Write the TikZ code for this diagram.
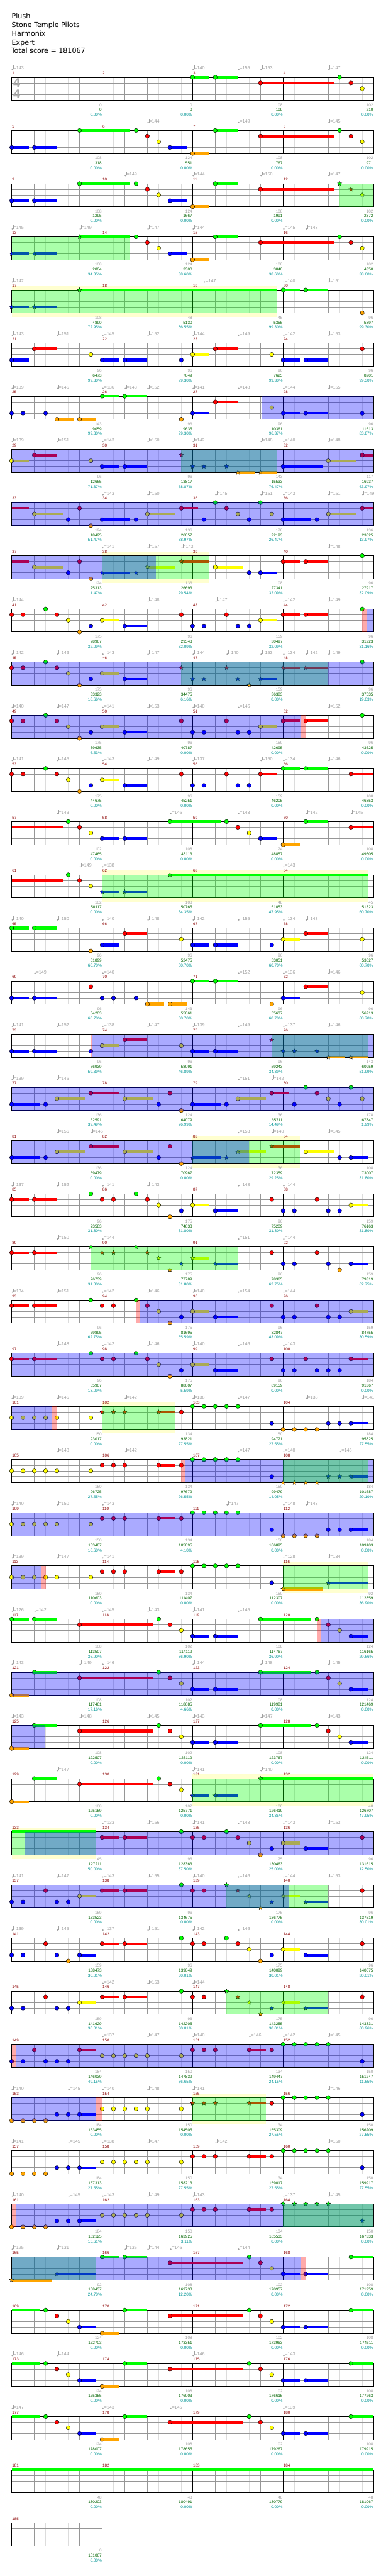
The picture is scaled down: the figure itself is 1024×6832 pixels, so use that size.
\documentclass[tikz,border=0pt]{standalone}
\usepackage{fontspec}
\setmainfont{Liberation Sans}
\newfontfamily\hdrfont{DejaVu Sans}
\usetikzlibrary{shapes.geometric}
\definecolor{lane0}{RGB}{0,255,0}
\definecolor{lane1}{RGB}{255,0,0}
\definecolor{lane2}{RGB}{255,255,0}
\definecolor{lane3}{RGB}{0,0,255}
\definecolor{lane4}{RGB}{255,165,0}
\definecolor{mred}{RGB}{139,0,0}
\definecolor{sgray}{RGB}{160,160,160}
\definecolor{sgreen}{RGB}{0,100,0}
\definecolor{scyan}{RGB}{0,150,150}
\definecolor{gridg}{RGB}{150,150,150}
\definecolor{gridl}{RGB}{220,220,220}
\definecolor{bandy}{RGB}{255,255,208}
\definecolor{ovb}{RGB}{0,0,255}
\definecolor{ovg}{RGB}{0,255,0}
\definecolor{ovr}{RGB}{255,0,0}
\newcounter{nc}
\newcommand\Rw[1]{\pgfmathtruncatemacro\Y{205+141*#1}}
\newcommand\Ly[1]{\Y+15*(#1)+((#1)>3)}
\newcommand\Grd{%
 \draw[gridl,line width=1pt] \foreach \k in {1,...,31}{({31+30*\k},\Y) -- ++(0,61)};%
 \draw[gridg,line width=1pt] \foreach \k in {1,2,3}{(31,{\Y+15*\k}) -- (991,{\Y+15*\k})};%
 \draw[gridg,line width=1pt] \foreach \k in {2,4,...,30}{({31+30*\k},\Y) -- ++(0,61)};%
 \draw[black,line width=1pt] \foreach \k in {8,16,24}{({31+30*\k},\Y) -- ++(0,61)};%
 \draw[black,line width=1.3pt] (31,\Y) rectangle (991,{\Y+61});}
\newcommand\Nt[2]{\filldraw[fill=lane#2,draw=black,line width=0.7pt] ({31+30*(#1)},{\Ly{#2}}) circle[radius=5.5pt];}
\newcommand\Sb[3]{\draw[lane#3,line width=7pt] ({31+30*(#1)},{\Ly{#3}}) -- ({31+30*(#2)},{\Ly{#3}});}
\newcommand\Su[3]{\Sb{#1}{#2}{#3}\Nt{#1}{#3}}
\newcommand\Stn[2]{\stepcounter{nc}\node[starn,fill=lane#2] (st\thenc) at ({31+30*(#1)},{\Ly{#2}}) {};}
\newcommand\Sts[3]{\Sb{#1}{#2}{#3}\Stn{#1}{#3}}
\newcommand\Nss[2]{\foreach \q in {#2}{\Nt{\q}{#1}}}
\newcommand\Ovl[3]{\fill[#1,opacity=0.3333] ({31+30*(#2)},\Y) rectangle ({31+30*(#3)},{\Y+61});}
\newcommand\Ybd[2]{\fill[bandy] ({31+30*(#1)},{\Y-11}) rectangle ({31+30*(#2)},\Y);\fill[bandy] ({31+30*(#1)},{\Y+61}) rectangle ({31+30*(#2)},{\Y+72});}
\newcommand\Mss[5]{%
 \node[mn,anchor=base west] (m#2) at ({32+240*#1},{\Y-7}) {#2};%
 \node[gn,anchor=base east] (g#2) at ({30+240*(#1+1)},{\Y+77}) {#3};%
 \node[sn,anchor=base east] (s#2) at ({30+240*(#1+1)},{\Y+90}) {#4};%
 \node[pn,anchor=base east] (p#2) at ({30+240*(#1+1)},{\Y+103}) {#5\%};}
\newcommand\Tmp[2]{\stepcounter{nc}%
 \fill[sgray] ({33+30*(#1)},{\Y-21}) ellipse[x radius=2.4pt,y radius=1.7pt];%
 \draw[sgray,line width=0.8pt] ({35.2+30*(#1)},{\Y-21}) -- ({35.2+30*(#1)},{\Y-31});%
 \node[tn,anchor=base west] (tp\thenc) at ({36+30*(#1)},{\Y-20}) {=#2};}
\newcommand\Tmps[1]{\foreach \ta/\tb in {#1}{\Tmp{\ta}{\tb}}}
\newcommand\PatA{\Sb{0}{2.5}{0}\Nt{3}{0}\Nt{4}{1}\Nt{5}{2}\Su{6}{7.5}{3}\Su{8}{9.5}{4}\Su{10}{12}{0}\Su{14}{20.5}{1}\Nt{21}{0}\Nt{22}{1}\Nt{23}{2}\Su{24}{25.5}{3}\Su{26}{28}{3}\Su{30}{32}{0}}
\newcommand\PatB[1]{\Su{0}{1.5}{#1}\Su{2}{4}{0}\Su{6}{12.5}{1}\Nt{13}{0}\Nt{14}{1}\Nt{15}{2}\Su{16}{17.5}{3}\Su{18}{20}{3}\Su{22}{26.5}{0}\Nt{27}{0}\Nt{28}{1}\Nt{29}{2}\Su{30}{31.5}{3}}
\begin{document}
\begin{tikzpicture}[x=1pt,y=-1pt,
 starn/.style={star,star points=5,star point ratio=2.2,minimum size=12pt,inner sep=0pt,draw=black,line width=0.6pt},
 mn/.style={font=\fontsize{10.5}{12}\selectfont,text=mred,inner sep=0pt},
 gn/.style={font=\fontsize{10.7}{12}\selectfont,text=sgray,inner sep=0pt},
 sn/.style={font=\fontsize{10.7}{12}\selectfont,text=sgreen,inner sep=0pt},
 pn/.style={font=\fontsize{10.7}{12}\selectfont,text=scyan,inner sep=0pt},
 tn/.style={font=\fontsize{12}{13}\selectfont,text=sgray,inner sep=0pt},
 hd/.style={font=\hdrfont\fontsize{18.5}{23}\selectfont,inner sep=0pt,anchor=base west}]
\useasboundingbox (0,0) rectangle (1024,6832);
\fill[white] (0,0) rectangle (1024,6832);
\node[hd] (title) at (31,49.3) {Plush};
\node[hd] (artist) at (31,72.4) {Stone Temple Pilots};
\node[hd] (charter) at (31,95.5) {Harmonix};
\node[hd] (level) at (31,118.6) {Expert};
\node[hd] (total) at (29.5,141.7) {Total score = 181067};
% row 0
\Rw{0}\Grd
\node[font=\fontsize{33}{33}\selectfont\bfseries,text=black!33,inner sep=0pt] (ts1) at (44.5,{\Y+15}) {4};
\node[font=\fontsize{33}{33}\selectfont\bfseries,text=black!33,inner sep=0pt] (ts2) at (44.5,{\Y+45.5}) {4};
\Su{16}{17.5}{0}\Su{18}{20}{0}\Su{22}{28.5}{1}\Nt{29}{0}\Nt{30}{1}\Nt{31}{2}
\Tmps{0/143,16/140,20/155,22/153,28/147}
\Mss{0}{1}{0}{0}{0.00}\Mss{1}{2}{0}{0}{0.00}\Mss{2}{3}{108}{108}{0.00}\Mss{3}{4}{102}{210}{0.00}
% row 1
\Rw{1}\Grd
\Su{0}{1.5}{3}\Su{2}{4}{3}\Su{6}{10.5}{0}\Nt{11}{0}\Nt{12}{1}\Nt{13}{2}\Su{14}{15.5}{3}\Su{16}{17.5}{4}\Su{18}{20}{0}\Su{22}{28.5}{1}\Nt{29}{0}\Nt{30}{1}\Nt{31}{2}
\Tmps{12/144,20/149,28/145}
\Mss{0}{5}{108}{318}{0.00}\Mss{1}{6}{124}{551}{0.00}\Mss{2}{7}{108}{767}{0.00}\Mss{3}{8}{102}{971}{0.00}
% row 2
\Rw{2}\Grd
\Su{0}{1.5}{3}\Su{2}{4}{3}\Su{6}{10.5}{0}\Nt{11}{0}\Nt{12}{1}\Nt{13}{2}\Su{14}{15.5}{3}\Su{16}{17.5}{4}\Su{18}{20}{0}\Su{22}{28.5}{1}\Stn{29}{0}\Stn{30}{1}\Stn{31}{2}
\Ovl{ovg}{29}{32}
\Tmps{10/149,16/144,22/150,28/147}
\Mss{0}{9}{108}{1295}{0.00}\Mss{1}{10}{124}{1667}{0.00}\Mss{2}{11}{108}{1991}{0.00}\Mss{3}{12}{102}{2372}{0.00}
% row 3
\Rw{3}\Grd
\Sts{0}{1.5}{3}\Sts{2}{4}{3}\Sts{6}{10.5}{0}\Nt{11}{0}\Nt{12}{1}\Nt{13}{2}\Su{14}{15.5}{3}\Su{16}{17.5}{4}\Su{18}{20}{0}\Su{22}{28.5}{1}\Nt{29}{0}\Nt{30}{1}\Nt{31}{2}
\Ovl{ovg}{0}{10.5}
\Tmps{0/145,6/149,12/147,16/144,24/145,26/148}
\Mss{0}{13}{108}{2804}{34.35}\Mss{1}{14}{124}{3300}{38.60}\Mss{2}{15}{108}{3840}{38.60}\Mss{3}{16}{102}{4350}{38.60}
% row 4
\Rw{4}\Ybd{0}{23.5}\Grd
\Sts{0}{1.5}{3}\Sts{2}{4}{3}\Sts{6}{23.5}{0}\Su{24}{25.5}{0}\Su{26}{28}{0}\Nt{31}{4}
\Ovl{ovg}{0}{23.5}
\Tmps{0/142,17/147,24/140,28/151}
\Mss{0}{17}{108}{4890}{72.95}\Mss{1}{18}{48}{5130}{86.55}\Mss{2}{19}{45}{5355}{99.30}\Mss{3}{20}{96}{5897}{99.30}
% row 5
\Rw{5}\Grd
\Su{0}{1.5}{3}\Su{2}{4}{1}\Nt{7}{2}\Su{8}{9.5}{3}\Su{10}{12}{3}\Nt{15}{3}\Su{16}{17.5}{2}\Su{18}{20}{1}\Nt{23}{2}\Su{24}{25.5}{3}\Su{26}{28}{3}\Nt{31}{1}
\Tmps{0/143,4/151,8/145,12/152,16/144,20/149,24/142,28/153}
\Mss{0}{21}{96}{6473}{99.30}\Mss{1}{22}{96}{7049}{99.30}\Mss{2}{23}{96}{7625}{99.30}\Mss{3}{24}{96}{8201}{99.30}
% row 6
\Rw{6}\Grd
\Nt{0}{3}\Nt{1}{3}\Nt{3}{3}\Su{4}{5.5}{4}\Su{6}{7.5}{4}\Su{8}{9.5}{0}\Su{10}{12}{0}\Nt{15}{4}\Su{16}{17.5}{3}\Su{18}{20}{1}\Nt{23}{2}\Su{24}{25.5}{3}\Su{26}{28}{3}\Nt{31}{3}
\Ovl{ovb}{22.07}{32}
\Tmps{0/139,4/145,8/136,10/143,12/152,16/141,20/148,24/144,28/155}
\Mss{0}{25}{143}{9059}{99.30}\Mss{1}{26}{96}{9635}{99.30}\Mss{2}{27}{96}{10361}{96.37}\Mss{3}{28}{96}{11513}{83.87}
% row 7
\Rw{7}\Grd
\Su{0}{1.5}{2}\Su{2}{4}{1}\Nt{7}{2}\Su{8}{9.5}{3}\Su{10}{12}{3}\Stn{15}{1}\Stn{16}{3}\Stn{17}{3}\Stn{19}{3}\Sts{20}{21.5}{4}\Sts{22}{23.5}{4}\Su{24}{27.5}{3}\Su{28}{30.5}{2}\Su{31}{32}{1}
\Ovl{ovg}{15}{23.5}\Ovl{ovb}{0}{32}
\Tmps{0/139,4/151,8/143,12/150,16/142,22/148,24/140,28/148}
\Mss{0}{29}{96}{12665}{71.37}\Mss{1}{30}{96}{13817}{58.87}\Mss{2}{31}{143}{15533}{76.47}\Mss{3}{32}{117}{16937}{63.97}
% row 8
\Rw{8}\Grd
\Sb{0}{1.5}{1}\Su{2}{4.5}{2}\Nt{5}{3}\Nt{6}{1}\Nt{7}{4}\Su{8}{10.5}{3}\Nt{11}{3}\Su{12}{14.5}{2}\Su{15}{16.5}{1}\Nt{17}{3}\Nt{18}{0}\Nt{19}{1}\Nt{20}{2}\Nt{21}{3}\Nt{22}{0}\Nt{23}{2}\Su{24}{26.5}{3}\Nt{27}{3}\Su{28}{30.5}{2}\Su{31}{32}{1}
\Ovl{ovb}{0}{32}
\Tmps{8/143,12/150,18/145,22/151,24/143,28/151,31/149}
\Mss{0}{33}{124}{18425}{51.47}\Mss{1}{34}{136}{20057}{38.97}\Mss{2}{35}{178}{22193}{26.47}\Mss{3}{36}{136}{23825}{13.97}
% row 9
\Rw{9}\Ybd{8}{17.5}\Grd
\Sb{0}{1.5}{1}\Su{2}{4.5}{2}\Nt{5}{3}\Nt{6}{1}\Nt{7}{4}\Sts{8}{10.5}{3}\Stn{11}{3}\Sts{12}{14.5}{2}\Sts{15}{17.5}{1}\Su{18}{20.5}{2}\Nt{21}{3}\Su{22}{23.5}{3}\Su{24}{25.5}{1}\Su{26}{28}{1}\Nt{31}{0}
\Ovl{ovg}{8}{17.5}\Ovl{ovb}{0}{12.78}
\Tmps{8/141,12/157,15/143,28/148}
\Mss{0}{37}{124}{25313}{1.47}\Mss{1}{38}{136}{26693}{29.54}\Mss{2}{39}{108}{27341}{32.09}\Mss{3}{40}{96}{27917}{32.09}
% row 10
\Rw{10}\Grd
\Nt{0}{1}\Nt{1}{1}\Nt{3}{0}\Nt{4}{1}\Nt{5}{2}\Nt{6}{4}\Nt{7}{3}\Su{8}{9.5}{2}\Su{10}{12}{3}\Nt{15}{1}\Nt{16}{3}\Nt{17}{3}\Nt{19}{1}\Nt{20}{3}\Nt{21}{3}\Su{22}{23.5}{2}\Su{24}{25.5}{1}\Su{26}{28}{1}\Nt{31}{0}
\Ovl{ovr}{31}{31.39}\Ovl{ovb}{31.39}{32}
\Tmps{0/144,12/148,18/147,24/142,28/149}
\Mss{0}{41}{175}{28967}{32.09}\Mss{1}{42}{96}{29543}{32.09}\Mss{2}{43}{159}{30497}{32.09}\Mss{3}{44}{96}{31223}{31.16}
% row 11
\Rw{11}\Grd
\Nt{0}{1}\Nt{1}{1}\Nt{3}{0}\Nt{4}{1}\Nt{5}{2}\Nt{6}{4}\Nt{7}{3}\Su{8}{9.5}{2}\Su{10}{12}{3}\Stn{15}{1}\Stn{16}{3}\Stn{17}{3}\Stn{19}{1}\Stn{20}{3}\Stn{21}{4}\Sts{22}{23.5}{3}\Sts{24}{25.5}{1}\Sts{26}{28}{1}\Nt{31}{0}
\Ovl{ovg}{15}{28}\Ovl{ovb}{0}{32}
\Tmps{0/142,4/146,8/143,12/147,16/144,19/140,22/153,24/134,26/142,28/149}
\Mss{0}{45}{175}{33323}{18.66}\Mss{1}{46}{96}{34475}{6.16}\Mss{2}{47}{159}{36383}{0.00}\Mss{3}{48}{96}{37535}{19.03}
% row 12
\Rw{12}\Grd
\Nt{0}{1}\Nt{1}{1}\Nt{3}{0}\Nt{4}{1}\Nt{5}{2}\Nt{6}{4}\Nt{7}{3}\Su{8}{9.5}{2}\Su{10}{12}{3}\Nt{15}{1}\Nt{16}{3}\Nt{17}{3}\Nt{19}{1}\Nt{20}{3}\Nt{21}{3}\Su{22}{23.5}{2}\Su{24}{25.5}{1}\Su{26}{28}{1}\Nt{31}{0}
\Ovl{ovb}{0}{25.55}\Ovl{ovr}{25.55}{26}
\Tmps{0/140,4/147,8/141,12/153,16/140,20/146,28/152}
\Mss{0}{49}{175}{39635}{6.53}\Mss{1}{50}{96}{40787}{0.00}\Mss{2}{51}{159}{42695}{0.00}\Mss{3}{52}{96}{43625}{0.00}
% row 13
\Rw{13}\Grd
\Nt{0}{1}\Nt{1}{1}\Nt{3}{0}\Nt{4}{1}\Nt{5}{2}\Nt{6}{4}\Nt{7}{3}\Su{8}{9.5}{2}\Su{10}{12}{3}\Nt{15}{1}\Nt{16}{3}\Nt{17}{3}\Nt{19}{1}\Nt{20}{3}\Nt{21}{3}\Su{22}{23.5}{1}\Su{24}{25.5}{0}\Su{26}{28}{0}\Su{30}{32}{1}
\Tmps{0/141,4/145,8/143,12/149,16/137,22/150,24/134,28/146}
\Mss{0}{53}{175}{44675}{0.00}\Mss{1}{54}{96}{45251}{0.00}\Mss{2}{55}{159}{46205}{0.00}\Mss{3}{56}{108}{46853}{0.00}
% row 14
\Rw{14}\Grd
\Sb{0}{4.5}{1}\Nt{5}{0}\Nt{6}{1}\Nt{7}{2}\Su{8}{9.5}{3}\Su{10}{12}{3}\Su{14}{18.5}{0}\Nt{19}{0}\Nt{20}{1}\Nt{21}{2}\Su{22}{23.5}{3}\Su{24}{25.5}{4}\Su{26}{28}{0}\Su{30}{32}{1}
\Tmps{4/143,14/146,20/143,26/142,30/145}
\Mss{0}{57}{102}{47465}{0.00}\Mss{1}{58}{108}{48113}{0.00}\Mss{2}{59}{124}{48857}{0.00}\Mss{3}{60}{108}{49505}{0.00}
% row 15
\Rw{15}\Ybd{8}{31.5}\Grd
\Sb{0}{4.5}{1}\Nt{5}{0}\Nt{6}{1}\Nt{7}{2}\Sts{8}{9.5}{3}\Sts{10}{12}{3}\Sts{14}{31.5}{0}
\Ovl{ovg}{8}{31.5}
\Tmps{6/149,8/138,24/143}
\Mss{0}{61}{102}{50117}{0.00}\Mss{1}{62}{108}{50765}{34.35}\Mss{2}{63}{48}{51053}{47.95}\Mss{3}{64}{45}{51323}{60.70}
% row 16
\Rw{16}\Grd
\Su{0}{1.5}{0}\Su{2}{4}{0}\Nt{7}{4}\Su{8}{9.5}{3}\Su{10}{12}{1}\Nt{15}{2}\Su{16}{17.5}{3}\Su{18}{20}{3}\Nt{23}{3}\Su{24}{25.5}{2}\Su{26}{28}{1}\Nt{31}{2}
\Tmps{0/140,4/150,8/140,12/148,16/142,20/155,24/134,26/143}
\Mss{0}{65}{96}{51899}{60.70}\Mss{1}{66}{96}{52475}{60.70}\Mss{2}{67}{96}{53051}{60.70}\Mss{3}{68}{96}{53627}{60.70}
% row 17
\Rw{17}\Grd
\Su{0}{1.5}{3}\Su{2}{4}{3}\Nt{7}{1}\Nt{8}{3}\Nt{9}{3}\Nt{11}{3}\Su{12}{13.5}{4}\Su{14}{15.5}{4}\Su{16}{17.5}{0}\Su{18}{20}{0}\Nt{23}{4}\Su{24}{25.5}{3}\Su{26}{28}{1}\Nt{31}{2}
\Tmps{2/149,8/140,20/152,24/136,28/146}
\Mss{0}{69}{96}{54203}{60.70}\Mss{1}{70}{143}{55061}{60.70}\Mss{2}{71}{96}{55637}{60.70}\Mss{3}{72}{96}{56213}{60.70}
% row 18
\Rw{18}\Grd
\Su{0}{1.5}{3}\Su{2}{4}{3}\Nt{7}{3}\Su{8}{9.5}{2}\Su{10}{12}{1}\Nt{15}{2}\Su{16}{17.5}{3}\Su{18}{20}{3}\Stn{23}{1}\Stn{24}{3}\Stn{25}{3}\Stn{27}{3}\Sts{28}{29.5}{4}\Sts{30}{31.5}{4}
\Ovl{ovr}{7}{7.15}\Ovl{ovg}{23}{31.5}\Ovl{ovb}{7.15}{32}
\Tmps{0/141,4/152,8/138,12/147,16/139,20/149,24/137,28/146}
\Mss{0}{73}{96}{56939}{59.39}\Mss{1}{74}{96}{58091}{46.89}\Mss{2}{75}{96}{59243}{34.39}\Mss{3}{76}{143}{60959}{51.99}
% row 19
\Rw{19}\Grd
\Su{0}{2.5}{3}\Nt{3}{3}\Su{4}{6.5}{2}\Su{7}{9.5}{1}\Su{10}{12.5}{2}\Nt{13}{3}\Nt{14}{1}\Nt{15}{4}\Su{16}{18.5}{3}\Nt{19}{3}\Su{20}{22.5}{2}\Su{23}{24.5}{1}\Nt{25}{3}\Nt{26}{0}\Nt{27}{1}\Nt{28}{2}\Nt{29}{3}\Nt{30}{0}\Nt{31}{2}
\Ovl{ovb}{0}{32}
\Tmps{0/139,4/146,20/151,23/142}
\Mss{0}{77}{136}{62591}{39.49}\Mss{1}{78}{124}{64079}{26.99}\Mss{2}{79}{136}{65711}{14.49}\Mss{3}{80}{178}{67847}{1.99}
% row 20
\Rw{20}\Ybd{16}{25.5}\Grd
\Su{0}{2.5}{3}\Nt{3}{3}\Su{4}{6.5}{2}\Su{7}{9.5}{1}\Su{10}{12.5}{2}\Nt{13}{3}\Nt{14}{1}\Nt{15}{4}\Sts{16}{18.5}{3}\Stn{19}{3}\Sts{20}{22.5}{2}\Sts{23}{25.5}{1}\Su{26}{28.5}{2}\Nt{29}{3}\Su{30}{31.5}{3}
\Ovl{ovg}{16}{25.5}\Ovl{ovb}{0}{21}
\Tmps{4/156,7/145,20/153,23/140,28/145}
\Mss{0}{81}{136}{69479}{0.00}\Mss{1}{82}{124}{70967}{0.00}\Mss{2}{83}{136}{72359}{29.25}\Mss{3}{84}{108}{73007}{31.80}
% row 21
\Rw{21}\Grd
\Su{0}{1.5}{1}\Su{2}{4}{1}\Nt{7}{0}\Nt{8}{1}\Nt{9}{1}\Nt{11}{0}\Nt{12}{1}\Nt{13}{2}\Nt{14}{4}\Nt{15}{3}\Su{16}{17.5}{2}\Su{18}{20}{3}\Nt{23}{1}\Nt{24}{3}\Nt{25}{3}\Nt{27}{1}\Nt{28}{3}\Nt{29}{3}\Su{30}{31.5}{2}
\Tmps{0/137,4/152,8/141,12/143,20/148,24/144}
\Mss{0}{85}{96}{73583}{31.80}\Mss{1}{86}{175}{74633}{31.80}\Mss{2}{87}{96}{75209}{31.80}\Mss{3}{88}{159}{76163}{31.80}
% row 22
\Rw{22}\Grd
\Su{0}{1.5}{1}\Su{2}{4}{1}\Stn{7}{0}\Stn{8}{1}\Stn{9}{1}\Stn{11}{0}\Stn{12}{1}\Stn{13}{2}\Stn{14}{4}\Stn{15}{3}\Sts{16}{17.5}{2}\Sts{18}{20}{3}\Nt{23}{1}\Nt{24}{3}\Nt{25}{3}\Nt{27}{1}\Nt{28}{3}\Nt{29}{4}\Su{30}{31.5}{3}
\Ovl{ovg}{7}{20}
\Tmps{4/150,8/144,20/151,24/144}
\Mss{0}{89}{96}{76739}{31.80}\Mss{1}{90}{175}{77789}{31.80}\Mss{2}{91}{96}{78365}{62.75}\Mss{3}{92}{159}{79319}{62.75}
% row 23
\Rw{23}\Grd
\Su{0}{1.5}{1}\Su{2}{4}{1}\Nt{7}{0}\Nt{8}{1}\Nt{9}{1}\Nt{11}{0}\Nt{12}{1}\Nt{13}{2}\Nt{14}{4}\Nt{15}{3}\Su{16}{17.5}{2}\Su{18}{20}{3}\Nt{23}{1}\Nt{24}{3}\Nt{25}{3}\Nt{27}{1}\Nt{28}{3}\Nt{29}{3}\Su{30}{31.5}{2}
\Ovl{ovr}{11}{11.39}\Ovl{ovb}{11.39}{32}
\Tmps{0/134,4/151,8/142,12/146,16/140,20/154,24/144}
\Mss{0}{93}{96}{79895}{62.75}\Mss{1}{94}{175}{81695}{55.59}\Mss{2}{95}{96}{82847}{43.09}\Mss{3}{96}{159}{84755}{30.59}
% row 24
\Rw{24}\Grd
\Su{0}{1.5}{1}\Su{2}{4}{1}\Nt{7}{0}\Nt{8}{1}\Nt{9}{1}\Nt{11}{0}\Nt{12}{1}\Nt{13}{2}\Nt{14}{4}\Nt{15}{3}\Su{16}{17.5}{2}\Su{18}{20}{3}\Nt{23}{1}\Nt{24}{3}\Nt{25}{3}\Nt{26}{1}\Nt{27}{3}\Nt{28}{3}\Nt{29}{3}\Su{30}{31.5}{1}
\Ovl{ovb}{0}{32}
\Tmps{4/148,8/142,12/146,16/140,20/146,24/143}
\Mss{0}{97}{96}{85907}{18.09}\Mss{1}{98}{175}{88007}{5.59}\Mss{2}{99}{96}{89159}{0.00}\Mss{3}{100}{184}{91367}{0.00}
% row 25
\Rw{25}\Ybd{8}{14.5}\Grd
\Nss{2}{0,1,2,3,4,7}\Stn{8}{1}\Stn{9}{1}\Stn{10}{1}\Sts{13}{14.5}{1}\Nt{15}{1}\Nss{0}{16,17,18,19,20}\Nt{23}{3}\Nss{4}{24,25,26,27}\Nt{28}{3}\Nt{29}{3}\Su{30}{31.5}{3}
\Ovl{ovb}{0}{3.57}\Ovl{ovr}{3.57}{4}\Ovl{ovg}{8}{14.5}
\Tmps{0/139,4/145,10/142,16/138,20/147,26/138,31/141}
\Mss{0}{101}{150}{93017}{0.00}\Mss{1}{102}{134}{93821}{27.55}\Mss{2}{103}{150}{94721}{27.55}\Mss{3}{104}{184}{95825}{27.55}
% row 26
\Rw{26}\Grd
\Nss{2}{0,1,2,3,4,7}\Nss{1}{8,9,10}\Su{13}{14.5}{1}\Nt{15}{1}\Nss{0}{16,17,18,19,20}\Nt{23}{3}\Stn{24}{4}\Stn{25}{4}\Stn{26}{4}\Stn{27}{4}\Stn{28}{3}\Stn{29}{3}\Sts{30}{31.5}{3}
\Ovl{ovr}{15}{15.3}\Ovl{ovb}{15.3}{32}\Ovl{ovg}{24}{31.5}
\Tmps{4/148,10/142,20/147,24/140,29/146}
\Mss{0}{105}{150}{96725}{27.55}\Mss{1}{106}{134}{97679}{26.55}\Mss{2}{107}{150}{99479}{14.05}\Mss{3}{108}{184}{101687}{29.10}
% row 27
\Rw{27}\Grd
\Nss{2}{0,1,2,3,4,7}\Nss{1}{8,9,10}\Su{13}{14.5}{1}\Nt{15}{1}\Nss{0}{16,17,18,19,20}\Nt{23}{3}\Nss{4}{24,25,26,27}\Nt{28}{3}\Nt{29}{3}\Su{30}{31.5}{3}
\Ovl{ovb}{0}{32}
\Tmps{0/140,4/150,8/143,19/147,24/148,26/143}
\Mss{0}{109}{150}{103487}{16.60}\Mss{1}{110}{134}{105095}{4.10}\Mss{2}{111}{150}{106895}{0.00}\Mss{3}{112}{184}{109103}{0.00}
% row 28
\Rw{28}\Ybd{24}{31.5}\Grd
\Nss{2}{0,1,2,3,4,7}\Nss{1}{8,9,10}\Su{13}{14.5}{1}\Nt{15}{1}\Nss{0}{16,17,18,19,20}\Nt{23}{3}\Sts{24}{27.5}{4}\Sts{28}{31.5}{3}
\Ovl{ovb}{0}{2.61}\Ovl{ovr}{2.61}{3}\Ovl{ovg}{24}{31.5}
\Tmps{0/139,4/147,8/141,24/128,28/134}
\Mss{0}{113}{150}{110603}{0.00}\Mss{1}{114}{134}{111407}{0.00}\Mss{2}{115}{150}{112307}{0.00}\Mss{3}{116}{92}{112859}{36.90}
% row 29
\Rw{29}\Grd
\PatB{0}
\Ovl{ovr}{27}{27.36}\Ovl{ovb}{27.36}{32}
\Tmps{0/126,2/142,8/145,12/143,16/141,20/145}
\Mss{0}{117}{108}{113507}{36.90}\Mss{1}{118}{102}{114119}{36.90}\Mss{2}{119}{108}{114767}{36.90}\Mss{3}{120}{124}{116165}{29.66}
% row 30
\Rw{30}\Grd
\PatB{4}
\Ovl{ovb}{0}{32}
\Tmps{0/143,6/149,8/146,16/144,22/148,28/145}
\Mss{0}{121}{108}{117461}{17.16}\Mss{1}{122}{102}{118685}{4.66}\Mss{2}{123}{108}{119981}{0.00}\Mss{3}{124}{124}{121469}{0.00}
% row 31
\Rw{31}\Grd
\PatB{4}
\Ovl{ovb}{0}{2.94}
\Tmps{0/143,6/148,12/145,16/143,22/147,28/143}
\Mss{0}{125}{108}{122507}{0.00}\Mss{1}{126}{102}{123119}{0.00}\Mss{2}{127}{108}{123767}{0.00}\Mss{3}{128}{124}{124511}{0.00}
% row 32
\Rw{32}\Ybd{16}{32}\Grd
\Su{0}{1.5}{4}\Su{2}{4}{0}\Su{6}{12.5}{1}\Nt{13}{0}\Nt{14}{1}\Nt{15}{2}\Sts{16}{17.5}{3}\Sts{18}{20}{3}\Sts{22}{32}{0}
\Ovl{ovg}{16}{32}
\Tmps{4/147,16/141,22/140}
\Mss{0}{129}{108}{125159}{0.00}\Mss{1}{130}{102}{125771}{0.00}\Mss{2}{131}{108}{126419}{34.35}\Mss{3}{132}{48}{126707}{47.95}
% row 33
\Rw{33}\Ybd{0}{7.5}\Grd
\Sb{0}{7.5}{0}\Su{8}{9.5}{1}\Su{10}{12}{1}\Nt{15}{0}\Nt{16}{1}\Nt{17}{1}\Nt{19}{0}\Nt{20}{1}\Nt{21}{2}\Nt{22}{4}\Nt{23}{3}\Su{24}{25.5}{2}\Su{26}{28}{3}\Nt{31}{1}
\Ovl{ovg}{0}{7.5}\Ovl{ovb}{1.15}{32}
\Tmps{8/133,12/156,16/141,20/148,24/143,28/153}
\Mss{0}{133}{45}{127211}{50.00}\Mss{1}{134}{96}{128363}{37.50}\Mss{2}{135}{175}{130463}{25.00}\Mss{3}{136}{96}{131615}{12.50}
% row 34
\Rw{34}\Grd
\Nt{0}{3}\Nt{1}{3}\Nt{3}{1}\Nt{4}{3}\Nt{5}{3}\Su{6}{7.5}{2}\Su{8}{9.5}{1}\Su{10}{12}{1}\Nt{15}{0}\Nt{16}{1}\Nt{17}{1}\Stn{19}{0}\Stn{20}{1}\Stn{21}{2}\Stn{22}{4}\Stn{23}{3}\Sts{24}{25.5}{2}\Sts{26}{28}{3}\Nt{31}{1}
\Ovl{ovg}{19}{28}\Ovl{ovb}{0}{24.49}
\Tmps{0/141,4/147,8/143,12/155,16/140,20/146,24/144,28/153}
\Mss{0}{137}{159}{133523}{0.00}\Mss{1}{138}{96}{134675}{0.00}\Mss{2}{139}{175}{136775}{0.00}\Mss{3}{140}{96}{137519}{30.01}
% row 35
\Rw{35}\Grd
\Nt{0}{3}\Nt{1}{3}\Nt{3}{1}\Nt{4}{3}\Nt{5}{4}\Su{6}{7.5}{3}\Su{8}{9.5}{1}\Su{10}{12}{1}\Nt{15}{0}\Nt{16}{1}\Nt{17}{1}\Nt{19}{0}\Nt{20}{1}\Nt{21}{2}\Nt{22}{4}\Nt{23}{3}\Su{24}{25.5}{2}\Su{26}{28}{3}\Nt{31}{1}
\Tmps{0/139,4/145,8/137,12/151,16/142,20/146}
\Mss{0}{141}{159}{138473}{30.01}\Mss{1}{142}{96}{139049}{30.01}\Mss{2}{143}{175}{140099}{30.01}\Mss{3}{144}{96}{140675}{30.01}
% row 36
\Rw{36}\Grd
\Nt{0}{3}\Nt{1}{3}\Nt{3}{1}\Nt{4}{3}\Nt{5}{3}\Su{6}{7.5}{2}\Su{8}{9.5}{1}\Su{10}{12}{1}\Nt{15}{0}\Nt{16}{1}\Nt{17}{1}\Stn{19}{0}\Stn{20}{1}\Stn{21}{2}\Stn{22}{4}\Stn{23}{3}\Sts{24}{25.5}{2}\Sts{26}{28}{3}\Nt{31}{1}
\Ovl{ovg}{19}{28}
\Tmps{8/142,12/153,16/144}
\Mss{0}{145}{159}{141629}{30.01}\Mss{1}{146}{96}{142205}{30.01}\Mss{2}{147}{175}{143255}{30.01}\Mss{3}{148}{96}{143831}{60.96}
% row 37
\Rw{37}\Grd
\Nt{0}{3}\Nt{1}{3}\Nt{2}{1}\Nt{3}{3}\Nt{4}{3}\Nt{5}{3}\Su{6}{7.5}{1}\Nss{2}{8,9,10,11,12,15}\Nss{1}{16,17,18}\Su{21}{22.5}{1}\Nt{23}{1}\Nss{0}{24,25,26,27,28}\Nt{31}{3}
\Ovl{ovr}{0}{0.39}\Ovl{ovb}{0.39}{32}
\Tmps{8/137,12/147,16/140,21/146,24/142,28/145}
\Mss{0}{149}{184}{146039}{49.15}\Mss{1}{150}{150}{147839}{36.65}\Mss{2}{151}{134}{149447}{24.15}\Mss{3}{152}{150}{151247}{11.65}
% row 38
\Rw{38}\Ybd{16}{22.5}\Grd
\Nss{4}{0,1,2,3}\Nt{4}{3}\Nt{5}{3}\Su{6}{7.5}{3}\Nss{2}{8,9,10,11,12,15}\Stn{16}{1}\Stn{17}{1}\Stn{18}{1}\Sts{21}{22.5}{1}\Nt{23}{1}\Nss{0}{24,25,26,27,28}\Nt{31}{3}
\Ovl{ovb}{0}{7.49}\Ovl{ovr}{7.49}{8}\Ovl{ovg}{16}{22.5}
\Tmps{0/140,5/145,8/140,12/148,16/141,28/146}
\Mss{0}{153}{184}{153455}{0.00}\Mss{1}{154}{150}{154505}{0.00}\Mss{2}{155}{134}{155309}{27.55}\Mss{3}{156}{150}{156209}{27.55}
% row 39
\Rw{39}\Grd
\Nss{4}{0,1,2,3}\Nt{4}{3}\Nt{5}{3}\Su{6}{7.5}{3}\Nss{2}{8,9,10,11,12,15}\Nss{1}{16,17,18}\Su{21}{22.5}{1}\Nt{23}{1}\Nss{0}{24,25,26,27,28}\Nt{31}{3}
\Tmps{0/141,5/145,8/138,12/147,18/142,28/150}
\Mss{0}{157}{184}{157313}{27.55}\Mss{1}{158}{150}{158213}{27.55}\Mss{2}{159}{134}{159017}{27.55}\Mss{3}{160}{150}{159917}{27.55}
% row 40
\Rw{40}\Grd
\Nss{4}{0,1,2,3}\Nt{4}{3}\Nt{5}{3}\Su{6}{7.5}{3}\Nss{2}{8,9,10,11,12,15}\Nss{1}{16,17,18}\Su{21}{22.5}{1}\Nt{23}{1}\Stn{24}{0}\Stn{25}{0}\Stn{26}{0}\Stn{27}{0}\Stn{28}{0}\Stn{31}{3}
\Ovl{ovr}{0}{0.35}\Ovl{ovb}{0.35}{32}\Ovl{ovg}{24}{32}
\Tmps{0/140,5/145,8/143,12/149,16/143,24/137,28/145}
\Mss{0}{161}{184}{162125}{15.61}\Mss{1}{162}{150}{163925}{3.11}\Mss{2}{163}{134}{165533}{0.00}\Mss{3}{164}{150}{167333}{0.00}
% row 41
\Rw{41}\Grd
\Sts{0}{3.5}{4}\Sts{4}{7.5}{3}\Su{8}{9.5}{0}\Su{10}{12}{0}\Su{14}{20.5}{1}\Nt{21}{0}\Nt{22}{1}\Nt{23}{2}\Su{24}{25.5}{3}\Su{26}{28}{3}\Su{30}{32}{0}
\Ovl{ovg}{0}{7.5}\Ovl{ovb}{0}{25.55}\Ovl{ovr}{25.55}{26}
\Tmps{0/125,4/131,10/135,12/144,14/146,20/144}
\Mss{0}{165}{92}{168437}{24.70}\Mss{1}{166}{108}{169733}{12.20}\Mss{2}{167}{102}{170957}{0.00}\Mss{3}{168}{108}{171959}{0.00}
% row 42
\Rw{42}\Grd
\PatA
\Mss{0}{169}{124}{172703}{0.00}\Mss{1}{170}{108}{173351}{0.00}\Mss{2}{171}{102}{173963}{0.00}\Mss{3}{172}{108}{174611}{0.00}
% row 43
\Rw{43}\Grd
\PatA
\Tmps{0/146,4/144,16/146,24/143}
\Mss{0}{173}{124}{175355}{0.00}\Mss{1}{174}{108}{176003}{0.00}\Mss{2}{175}{102}{176615}{0.00}\Mss{3}{176}{108}{177263}{0.00}
% row 44
\Rw{44}\Grd
\PatA
\Tmps{0/147,8/143,14/145,24/139}
\Mss{0}{177}{124}{178007}{0.00}\Mss{1}{178}{108}{178655}{0.00}\Mss{2}{179}{102}{179267}{0.00}\Mss{3}{180}{108}{179915}{0.00}
% row 45
\Rw{45}\Grd
\Sb{0}{32}{0}
\Mss{0}{181}{48}{180203}{0.00}\Mss{1}{182}{48}{180491}{0.00}\Mss{2}{183}{48}{180779}{0.00}\Mss{3}{184}{48}{181067}{0.00}
% row 46
\Rw{46}
\draw[gridl,line width=1pt] \foreach \k in {1,...,7}{({31+30*\k},\Y) -- ++(0,61)};
\draw[gridg,line width=1pt] \foreach \k in {1,2,3}{(31,{\Y+15*\k}) -- (271,{\Y+15*\k})};
\draw[gridg,line width=1pt] \foreach \k in {2,4,6}{({31+30*\k},\Y) -- ++(0,61)};
\draw[black,line width=1.3pt] (31,\Y) rectangle (271,{\Y+61});
\Mss{0}{185}{0}{181067}{0.00}
\end{tikzpicture}
\end{document}
